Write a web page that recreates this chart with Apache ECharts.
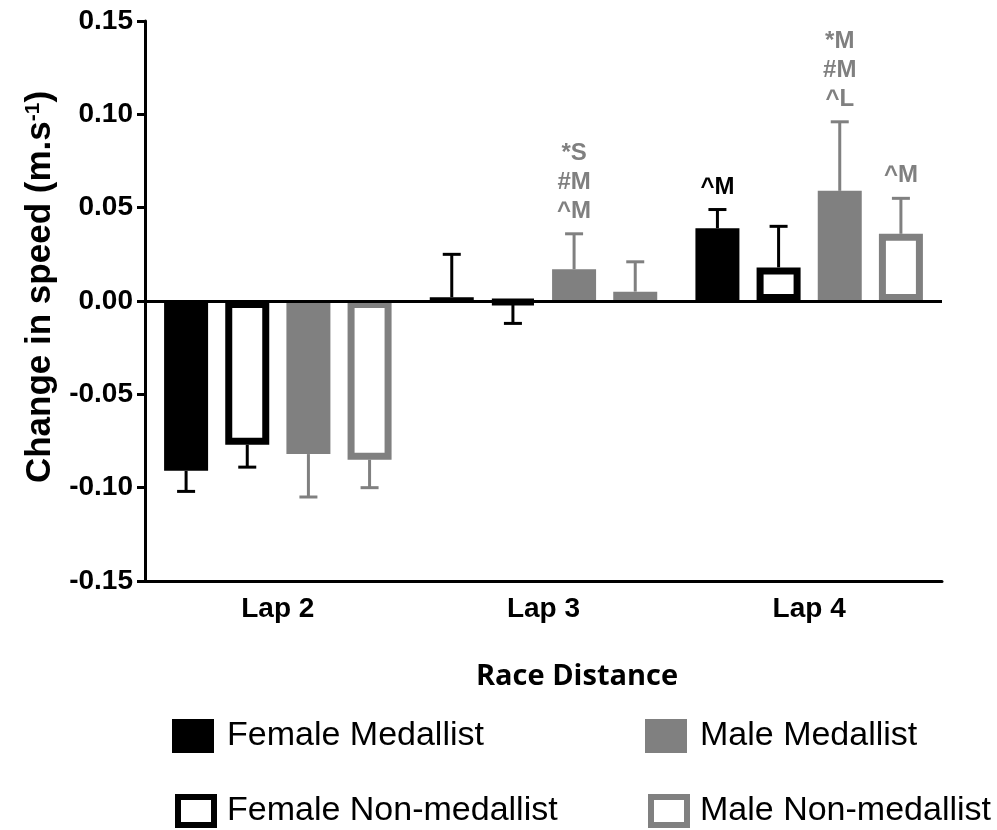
<!DOCTYPE html>
<html>
<head>
<meta charset="utf-8">
<script src="https://cdn.jsdelivr.net/npm/echarts@6/dist/echarts.min.js"></script>
<style>
  html, body { margin: 0; padding: 0; background: #fff; }
  #chart { width: 997px; height: 830px; }
</style>
</head>
<body>
<div id="chart"></div>
<script>
// data
const laps = ['Lap 2', 'Lap 3', 'Lap 4']
const yTicks = [-0.15, -0.10, -0.05, 0.00, 0.05, 0.10, 0.15]

const femaleMed = [-0.091, 0.002, 0.039]
const femaleMedErr = [0.011, 0.023, 0.010]
const femaleMedNote = ['', '', '^M']

const femaleNon = [-0.077, -0.001, 0.018]
const femaleNonErr = [0.012, 0.011, 0.022]
const femaleNonNote = ['', '', '']

const maleMed = [-0.082, 0.017, 0.059]
const maleMedErr = [0.023, 0.019, 0.037]
const maleMedNote = ['', '*S\n#M\n^M', '*M\n#M\n^L']

const maleNon = [-0.085, 0.005, 0.036]
const maleNonErr = [0.015, 0.016, 0.019]
const maleNonNote = ['', '', '^M']

const BLACK = '#000000'
const GREY = '#808080'
const FONT = '"Liberation Sans", Arial, sans-serif'

const BAR_W = 44
const BAR_GAP = 0.39
const STEP = BAR_W * (1 + BAR_GAP)

const groups = [
  { name: 'Female Medallist', vals: femaleMed, errs: femaleMedErr, notes: femaleMedNote, color: BLACK, hollow: false },
  { name: 'Female Non-medallist', vals: femaleNon, errs: femaleNonErr, notes: femaleNonNote, color: BLACK, hollow: true },
  { name: 'Male Medallist', vals: maleMed, errs: maleMedErr, notes: maleMedNote, color: GREY, hollow: false },
  { name: 'Male Non-medallist', vals: maleNon, errs: maleNonErr, notes: maleNonNote, color: GREY, hollow: true }
]

const chart = echarts.init(document.getElementById('chart'), null, { renderer: 'canvas' })

const barSeries = groups.map((g, gi) => ({
  name: g.name,
  type: 'bar',
  data: g.vals,
  barWidth: BAR_W,
  barGap: (BAR_GAP * 100) + '%',
  itemStyle: {
    color: g.hollow ? '#ffffff' : g.color,
    borderColor: g.color,
    borderWidth: g.hollow ? 7 : 2
  },
  z: 3,
  markLine: gi === 0 ? {
    silent: true,
    symbol: 'none',
    label: { show: false },
    lineStyle: { color: BLACK, width: 3, type: 'solid' },
    data: [{ yAxis: 0 }],
    z: 5
  } : undefined
}))

const errSeries = groups.map((g, gi) => ({
  type: 'custom',
  silent: true,
  z: 4,
  data: g.vals.map((v, i) => [i, v, g.errs[i]]),
  renderItem(params, api) {
    const idx = api.value(0)
    const v = api.value(1)
    const e = api.value(2)
    const note = g.notes[idx]
    const end = v >= 0 ? v + e : v - e
    const x = api.coord([idx, 0])[0] + (gi - 1.5) * STEP
    const y0 = api.coord([idx, v])[1]
    const y1 = api.coord([idx, end])[1]
    const children = [
      { type: 'line', shape: { x1: x, y1: y0, x2: x, y2: y1 }, style: { stroke: g.color, lineWidth: 3 } },
      { type: 'line', shape: { x1: x - 9, y1: y1, x2: x + 9, y2: y1 }, style: { stroke: g.color, lineWidth: 3 } }
    ]
    if (note) {
      children.push({
        type: 'text',
        x: x,
        y: y1 - 8,
        style: {
          text: note,
          fill: g.color,
          font: 'bold 24px ' + FONT,
          lineHeight: 29,
          align: 'center',
          verticalAlign: 'bottom'
        }
      })
    }
    return { type: 'group', children }
  }
}))

function legendFor(name, left, top, hollow) {
  return {
    data: [name],
    left, top,
    icon: 'rect',
    itemWidth: hollow ? 36 : 42,
    itemHeight: hollow ? 28 : 34,
    itemStyle: { borderWidth: hollow ? 6 : 0 },
    selectedMode: false,
    textStyle: { fontFamily: FONT, fontSize: 34, color: BLACK, padding: [0, 0, 0, 8] }
  }
}

chart.setOption({
  animation: false,
  grid: { left: 145, right: 55, top: 21, bottom: 249, containLabel: false },
  legend: [
    legendFor('Female Medallist', 167, 714, false),
    legendFor('Male Medallist', 640, 714, false),
    legendFor('Female Non-medallist', 170, 789, true),
    legendFor('Male Non-medallist', 643, 789, true)
  ],
  graphic: [{
    type: 'text',
    x: 577,
    y: 677,
    style: {
      text: 'Race Distance',
      font: 'bold 29px "Open Sans", sans-serif',
      fill: BLACK,
      align: 'center',
      verticalAlign: 'middle'
    }
  }],
  xAxis: {
    type: 'category',
    data: laps,
    axisLine: { onZero: false, lineStyle: { color: BLACK, width: 3 } },
    axisTick: { alignWithLabel: true, length: 8, lineStyle: { color: BLACK, width: 3 } },
    axisLabel: { color: BLACK, fontFamily: FONT, fontWeight: 'bold', fontSize: 28, margin: 14 },
    splitLine: { show: false }
  },
  yAxis: {
    type: 'value',
    min: yTicks[0],
    max: yTicks[yTicks.length - 1],
    interval: 0.05,
    name: 'Change in speed (m.s{sup|-1})',
    nameLocation: 'middle',
    nameGap: 87,
    nameRotate: 90,
    nameTextStyle: {
      color: BLACK, fontFamily: FONT, fontWeight: 'bold', fontSize: 35,
      padding: [0, 0, 0, 28],
      rich: { sup: { fontSize: 21, fontWeight: 'bold', fontFamily: FONT, color: BLACK, verticalAlign: 'top', padding: [0, 0, 14, 0] } }
    },
    axisLine: { show: true, lineStyle: { color: BLACK, width: 3 } },
    axisTick: { show: true, length: 8, lineStyle: { color: BLACK, width: 3 } },
    axisLabel: {
      color: BLACK, fontFamily: FONT, fontWeight: 'bold', fontSize: 28, margin: 12,
      formatter: v => v.toFixed(2)
    },
    splitLine: { show: false }
  },
  series: [...barSeries, ...errSeries]
})
</script>
</body>
</html>
